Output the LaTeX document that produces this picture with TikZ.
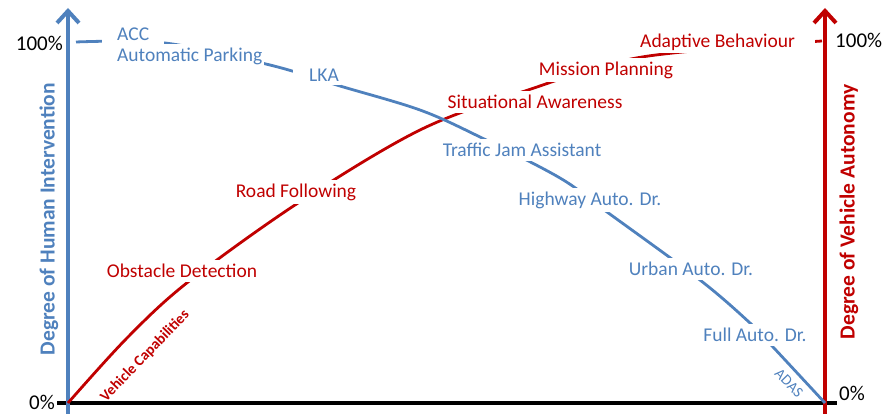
\documentclass[tikz,border=0pt]{standalone}
\usepackage{fontspec}
\setmainfont{Carlito}
\usetikzlibrary{arrows.meta}
\definecolor{ablue}{HTML}{4F81BD}
\definecolor{ared}{HTML}{C00000}
\begin{document}
\begin{tikzpicture}[x=1pt,y=-1pt,
  lbl/.style={font=\fontsize{19.5}{22}\selectfont, inner xsep=6pt, inner ysep=4pt, fill=white},
  bl/.style={lbl,text=ablue},
  rl/.style={lbl,text=ared},
  pct/.style={font=\fontsize{21}{24}\selectfont,text=black,inner sep=0pt},
  axlbl/.style={font=\bfseries\fontsize{21.5}{24}\selectfont, rotate=90, inner sep=0pt},
  curve/.style={line width=2.8pt},
  axis/.style={line width=4pt, -{Straight Barb[length=12pt,width=22pt]}},
]
\useasboundingbox (0,0) rectangle (890,414);
% baseline
\coordinate (b0) at (57,403);
\coordinate (b1) at (837,403);
\draw[black, line width=4pt] (b0) -- (b1);
% axes
\coordinate (lb) at (68,414); \coordinate (lt) at (68,8);
\coordinate (rb) at (825,414); \coordinate (rt) at (825,8);
\draw[ablue, axis] (lb) -- (lt);
\draw[ared, axis] (rb) -- (rt);
% curves
\draw[ared, curve] plot[smooth, tension=0.55] coordinates {(68,403) (127,338) (188,282) (298,203) (420,130) (528,90) (642,57) (822,41)};
\draw[ablue, curve] plot[smooth, tension=0.55] coordinates {(76,42) (165,43) (270,65) (340,86) (420,110) (480,137) (560,178) (607,212) (700,280) (750,323) (773,347) (825,403)};
% percent labels
\node[pct, anchor=east] (p100l) at (63,43) {100\%};
\node[pct, anchor=east] (p0l) at (55,402) {0\%};
\node[pct, anchor=west] (p100r) at (835,40) {100\%};
\node[pct, anchor=west] (p0r) at (839,393) {0\%};
% axis titles
\node[axlbl, text=ablue] (tl) at (49,219) {Degree of Human Intervention};
\node[axlbl, text=ared] (tr) at (849,212) {Degree of Vehicle Autonomy};
% blue labels
\node[bl, anchor=west, inner xsep=15pt, inner ysep=5pt] (acc) at (102,34) {ACC};
\node[bl, anchor=west, inner xsep=2pt] (ap) at (115,56) {Automatic Parking};
\node[bl, anchor=west, inner xsep=0pt] (lka) at (293,75) {\kern16pt LKA\kern2pt};
\node[bl] (tja) at (522,150) {Traffic Jam Assistant};
\node[bl] (hw) at (590,200) {Highway Auto. Dr.};
\node[bl] (ur) at (691,269) {Urban Auto. Dr.};
\node[bl] (fa) at (755,335) {Full Auto. Dr.};
% red labels
\node[rl, anchor=west, inner xsep=0pt, inner ysep=3pt] (ab) at (634,42) {\kern6pt Adaptive Behaviour\kern20pt};
\node[rl] (mp) at (606,70) {Mission Planning};
\node[rl] (sa) at (535,102) {Situational Awareness};
\node[rl] (rf) at (296,192) {Road Following};
\node[rl] (od) at (182,271) {Obstacle Detection};
% curve labels
\node[font=\bfseries\fontsize{15}{17}\selectfont, text=ared, rotate=46, inner sep=0pt] (vc) at (145,356) {Vehicle Capabilities};
\node[font=\fontsize{15}{17}\selectfont, text=ablue, rotate=-46, inner sep=0pt] (adas) at (789,383) {ADAS};
\end{tikzpicture}
\end{document}
